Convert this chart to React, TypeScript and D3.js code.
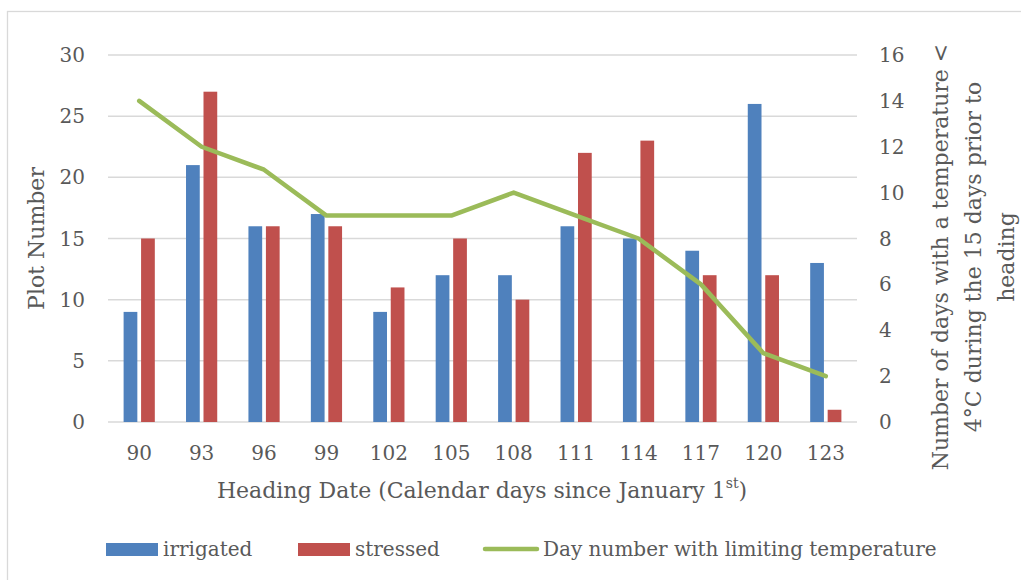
import React from "react";
import * as d3 from "d3";

const categories = ["90", "93", "96", "99", "102", "105", "108", "111", "114", "117", "120", "123"];
const irrigated = [9, 21, 16, 17, 9, 12, 12, 16, 15, 14, 26, 13];
const stressed = [15, 27, 16, 16, 11, 15, 10, 22, 23, 12, 12, 1];
const limitingDays = [14, 12, 11, 9, 9, 9, 10, 9, 8, 6, 3, 2];
const leftTicks = [0, 5, 10, 15, 20, 25, 30];
const rightTicks = [0, 2, 4, 6, 8, 10, 12, 14, 16];

const W = 1021;
const H = 580;
const M = { left: 108, right: 857, top: 55, bottom: 422 };
const FONT = "'DejaVu Serif', serif";
const TXT = "#595959";
const BLUE = "#4F81BD";
const RED = "#C0504D";
const GREEN = "#9BBB59";

export default function App() {
  const x = d3.scaleBand<string>().domain(categories).range([M.left, M.right]).padding(0);
  const yL = d3.scaleLinear().domain([0, 30]).range([M.bottom, M.top]);
  const yR = d3.scaleLinear().domain([0, 16]).range([M.bottom, M.top]);
  const bw = x.bandwidth() * 0.22;
  const gap = x.bandwidth() * 0.06;
  const cx = (c: string) => (x(c) as number) + x.bandwidth() / 2;

  const line = d3
    .line<number>()
    .x((_, i) => cx(categories[i]))
    .y((d) => yR(d));

  const fs = 20;
  const ts = 22;

  return (
    <svg width={W} height={H} style={{ position: "absolute", left: 0, top: 0, background: "#fff" }} fontFamily={FONT}>
      <rect x={7.5} y={11.5} width={1100} height={1000} fill="#fff" stroke="#D9D9D9" strokeWidth={1.3} />
      {leftTicks.map((t) => (
        <line key={"g" + t} x1={M.left} x2={M.right} y1={yL(t)} y2={yL(t)} stroke="#D9D9D9" strokeWidth={1.5} />
      ))}
      {categories.map((c, i) => (
        <g key={c}>
          <rect x={cx(c) - gap / 2 - bw} y={yL(irrigated[i])} width={bw} height={yL(0) - yL(irrigated[i])} fill={BLUE} />
          <rect x={cx(c) + gap / 2} y={yL(stressed[i])} width={bw} height={yL(0) - yL(stressed[i])} fill={RED} />
          <text x={cx(c)} y={460} textAnchor="middle" fontSize={fs} fill={TXT}>{c}</text>
        </g>
      ))}
      <path d={line(limitingDays) || ""} fill="none" stroke={GREEN} strokeWidth={4.5} strokeLinejoin="round" strokeLinecap="round" />
      {leftTicks.map((t) => (
        <text key={"l" + t} x={85} y={yL(t) + 7} textAnchor="end" fontSize={fs} fill={TXT}>{t}</text>
      ))}
      {rightTicks.map((t) => (
        <text key={"r" + t} x={879} y={yR(t) + 7} textAnchor="start" fontSize={fs} fill={TXT}>{t}</text>
      ))}
      <text transform={`translate(44,${(M.top + M.bottom) / 2}) rotate(-90)`} textAnchor="middle" fontSize={ts} fill={TXT}>Plot Number</text>
      <text x={482} y={498} textAnchor="middle" fontSize={ts} fill={TXT}>
        Heading Date (Calendar days since January 1<tspan fontSize={14} dy={-10}>st</tspan><tspan dy={10}>)</tspan>
      </text>
      <g transform={`translate(940,257) rotate(-90)`}>
        <text x={0} y={8} textAnchor="middle" fontSize={ts} fill={TXT}>Number of days with a temperature &lt;</text>
        <text x={0} y={41} textAnchor="middle" fontSize={ts} fill={TXT}>4°C during the 15 days prior to</text>
        <text x={0} y={74} textAnchor="middle" fontSize={ts} fill={TXT}>heading</text>
      </g>
      <rect x={106} y={543} width={52} height={13} fill={BLUE} />
      <text x={163} y={556} fontSize={20} fill={TXT}>irrigated</text>
      <rect x={298} y={543} width={52} height={13} fill={RED} />
      <text x={355} y={556} fontSize={20} fill={TXT}>stressed</text>
      <line x1={485} x2={537} y1={549} y2={549} stroke={GREEN} strokeWidth={4.5} strokeLinecap="round" />
      <text x={543} y={556} fontSize={20} fill={TXT}>Day number with limiting temperature</text>
    </svg>
  );
}
